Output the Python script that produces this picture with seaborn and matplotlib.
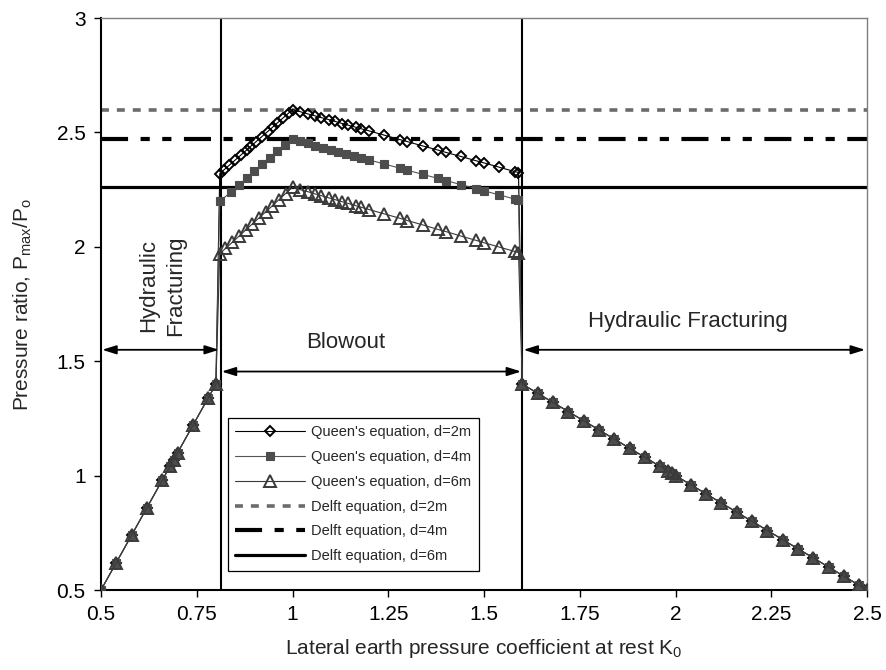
import matplotlib
matplotlib.use("Agg")
import matplotlib.pyplot as plt
import pandas as pd
import seaborn as sns
from matplotlib.lines import Line2D

# ---------------- data ----------------
# hydraulic fracturing branches (shared by the three Queen's curves)
k0_left = [0.50, 0.54, 0.58, 0.62, 0.66, 0.68, 0.69, 0.70, 0.74, 0.78, 0.80]
ratio_left = [0.50, 0.62, 0.74, 0.86, 0.98, 1.04, 1.07, 1.10, 1.22, 1.34, 1.40]
k0_right = [1.60, 1.64, 1.68, 1.72, 1.76, 1.80, 1.84, 1.88, 1.92, 1.96, 1.98, 1.99, 2.00,
            2.04, 2.08, 2.12, 2.16, 2.20, 2.24, 2.28, 2.32, 2.36, 2.40, 2.44, 2.48, 2.50]
ratio_right = [1.40, 1.36, 1.32, 1.28, 1.24, 1.20, 1.16, 1.12, 1.08, 1.04, 1.02, 1.01, 1.00,
               0.96, 0.92, 0.88, 0.84, 0.80, 0.76, 0.72, 0.68, 0.64, 0.60, 0.56, 0.52, 0.50]

# blowout branch, Queen's equation d=2m
k0_mid_d2 = [0.81, 0.82, 0.835, 0.85, 0.865, 0.88, 0.89, 0.905, 0.92, 0.935, 0.95, 0.96,
             0.975, 0.99, 1.00, 1.02, 1.04, 1.06, 1.075, 1.095, 1.11, 1.13, 1.145, 1.165,
             1.18, 1.20, 1.24, 1.28, 1.30, 1.34, 1.38, 1.40, 1.44, 1.48, 1.50, 1.54, 1.58, 1.59]
ratio_mid_d2 = [2.320, 2.335, 2.357, 2.379, 2.401, 2.423, 2.438, 2.460, 2.482, 2.504, 2.526,
                2.541, 2.563, 2.585, 2.600, 2.591, 2.581, 2.572, 2.565, 2.556, 2.549, 2.539,
                2.532, 2.523, 2.516, 2.507, 2.488, 2.469, 2.460, 2.441, 2.423, 2.413, 2.395,
                2.376, 2.367, 2.348, 2.329, 2.325]

# blowout branch, Queen's equation d=4m
k0_mid_d4 = [0.81, 0.84, 0.86, 0.88, 0.90, 0.92, 0.94, 0.96, 0.98, 1.00, 1.02, 1.04, 1.06,
             1.08, 1.10, 1.12, 1.14, 1.16, 1.18, 1.20, 1.24, 1.28, 1.30, 1.34, 1.38, 1.40,
             1.44, 1.48, 1.50, 1.54, 1.58, 1.59]
ratio_mid_d4 = [2.200, 2.240, 2.270, 2.300, 2.330, 2.360, 2.390, 2.420, 2.445, 2.470, 2.461,
                2.452, 2.443, 2.434, 2.425, 2.416, 2.407, 2.398, 2.389, 2.380, 2.362, 2.344,
                2.335, 2.317, 2.299, 2.290, 2.272, 2.254, 2.245, 2.227, 2.209, 2.205]

# blowout branch, Queen's equation d=6m
k0_mid_d6 = [0.81, 0.825, 0.843, 0.86, 0.878, 0.895, 0.913, 0.93, 0.947, 0.965, 0.982, 1.00,
             1.02, 1.04, 1.06, 1.075, 1.095, 1.11, 1.13, 1.145, 1.165, 1.18, 1.20, 1.24,
             1.28, 1.30, 1.34, 1.38, 1.40, 1.44, 1.48, 1.50, 1.54, 1.58, 1.59]
ratio_mid_d6 = [1.970, 1.993, 2.020, 2.046, 2.074, 2.100, 2.127, 2.153, 2.179, 2.207, 2.233,
                2.260, 2.250, 2.241, 2.231, 2.224, 2.214, 2.207, 2.197, 2.190, 2.180, 2.173,
                2.163, 2.144, 2.125, 2.115, 2.096, 2.076, 2.067, 2.047, 2.028, 2.018, 1.999,
                1.980, 1.975]

# Delft equation (constant ratios)
delft_ratio = [2.60, 2.47, 2.26]
series_labels = ["Queen's equation, d=2m", "Queen's equation, d=4m", "Queen's equation, d=6m",
                 "Delft equation, d=2m", "Delft equation, d=4m", "Delft equation, d=6m"]

# zone boundaries
boundaries = [0.813, 1.60]

x_ticks = [0.5, 0.75, 1.0, 1.25, 1.5, 1.75, 2.0, 2.25, 2.5]
x_ticklabels = ["0.5", "0.75", "1", "1.25", "1.5", "1.75", "2", "2.25", "2.5"]
y_ticks = [0.5, 1.0, 1.5, 2.0, 2.5, 3.0]
y_ticklabels = ["0.5", "1", "1.5", "2", "2.5", "3"]

# ---------------- styling ----------------
sns.set_style("ticks")
plt.rcParams["font.family"] = ["Liberation Sans", "DejaVu Sans"]
plt.rcParams["mathtext.default"] = "regular"

fig, ax = plt.subplots(figsize=(8.86, 6.70), dpi=100)
fig.subplots_adjust(left=0.114, right=0.9786, bottom=0.1194, top=0.973)

# Delft lines
delft_styles = [
    dict(color="#6b6b6b", lw=2.6, dashes=(2.2, 2.2)),
    dict(color="black", lw=3.0, dashes=(6.5, 3, 2.2, 3, 2.2, 3)),
    dict(color="black", lw=2.3, linestyle="-"),
]
for val, st in zip(delft_ratio, delft_styles):
    ax.axhline(val, zorder=2, **st)

# vertical zone boundaries
for b in boundaries:
    ax.axvline(b, color="black", lw=1.5, zorder=2)

# Queen's curves (open markers, as in the reference)
queen_styles = [
    dict(marker="D", markersize=5.6, markerfacecolor="none", markeredgecolor="black",
         markeredgewidth=1.4, color="black", linewidth=0.8),
    dict(marker="s", markersize=5.2, markerfacecolor="#4d4d4d", markeredgecolor="#4d4d4d",
         markeredgewidth=0.8, color="#555555", linewidth=0.8),
    dict(marker="^", markersize=8.0, markerfacecolor="none", markeredgecolor="#3a3a3a",
         markeredgewidth=1.4, color="#3a3a3a", linewidth=0.8),
]
queen_mid = [(k0_mid_d2, ratio_mid_d2), (k0_mid_d4, ratio_mid_d4), (k0_mid_d6, ratio_mid_d6)]
for (kmid, rmid), st in zip(queen_mid, queen_styles):
    df = pd.DataFrame({"K0": k0_left + kmid + k0_right,
                       "ratio": ratio_left + rmid + ratio_right})
    sns.lineplot(data=df, x="K0", y="ratio", sort=False, estimator=None, ax=ax,
                 zorder=3, **st)

# axes
ax.set_xlim(0.5, 2.5)
ax.set_ylim(0.5, 3.0)
ax.set_xticks(x_ticks)
ax.set_xticklabels(x_ticklabels)
ax.set_yticks(y_ticks)
ax.set_yticklabels(y_ticklabels)
ax.tick_params(axis="both", direction="out", length=5, width=1.0, labelsize=15,
               colors="black", pad=6)
for side in ["left", "bottom"]:
    ax.spines[side].set_color("black")
    ax.spines[side].set_linewidth(1.5)
for side in ["top", "right"]:
    ax.spines[side].set_visible(True)
    ax.spines[side].set_color("#7f7f7f")
    ax.spines[side].set_linewidth(1.0)

ax.set_xlabel("Lateral earth pressure coefficient at rest K$_0$", fontsize=15, labelpad=9)
ax.set_ylabel("Pressure ratio, P$_{max}$/P$_o$", fontsize=15, labelpad=16)

# annotations
arrow_kw = dict(arrowstyle="<|-|>,head_length=0.7,head_width=0.22", color="black", lw=1.3,
                shrinkA=0, shrinkB=0, mutation_scale=12)
ax.annotate("", xy=(0.503, 1.55), xytext=(0.808, 1.55), arrowprops=arrow_kw)
ax.annotate("", xy=(0.815, 1.455), xytext=(1.597, 1.455), arrowprops=arrow_kw)
ax.annotate("", xy=(1.603, 1.55), xytext=(2.495, 1.55), arrowprops=arrow_kw)
ax.text(0.660, 1.83, "Hydraulic\nFracturing", rotation=90, ha="center", va="center",
        multialignment="center", fontsize=16, linespacing=1.4)
ax.text(1.139, 1.558, "Blowout", ha="center", va="baseline", fontsize=16)
ax.text(2.033, 1.648, "Hydraulic Fracturing", ha="center", va="baseline", fontsize=16)

# legend
handles = [Line2D([], [], **st) for st in queen_styles] + \
          [Line2D([], [], **st) for st in delft_styles]
leg = ax.legend(handles, series_labels, loc="upper left",
                bbox_to_anchor=(228 / 886, 1 - 418 / 670), bbox_transform=fig.transFigure,
                borderaxespad=0, fontsize=10.5, handlelength=4.8, handletextpad=0.4,
                labelspacing=0.74, borderpad=0.5, fancybox=False, framealpha=1,
                edgecolor="black", numpoints=1)
leg.get_frame().set_linewidth(0.9)
leg.set_zorder(5)

fig.savefig("out.png", dpi=100)
